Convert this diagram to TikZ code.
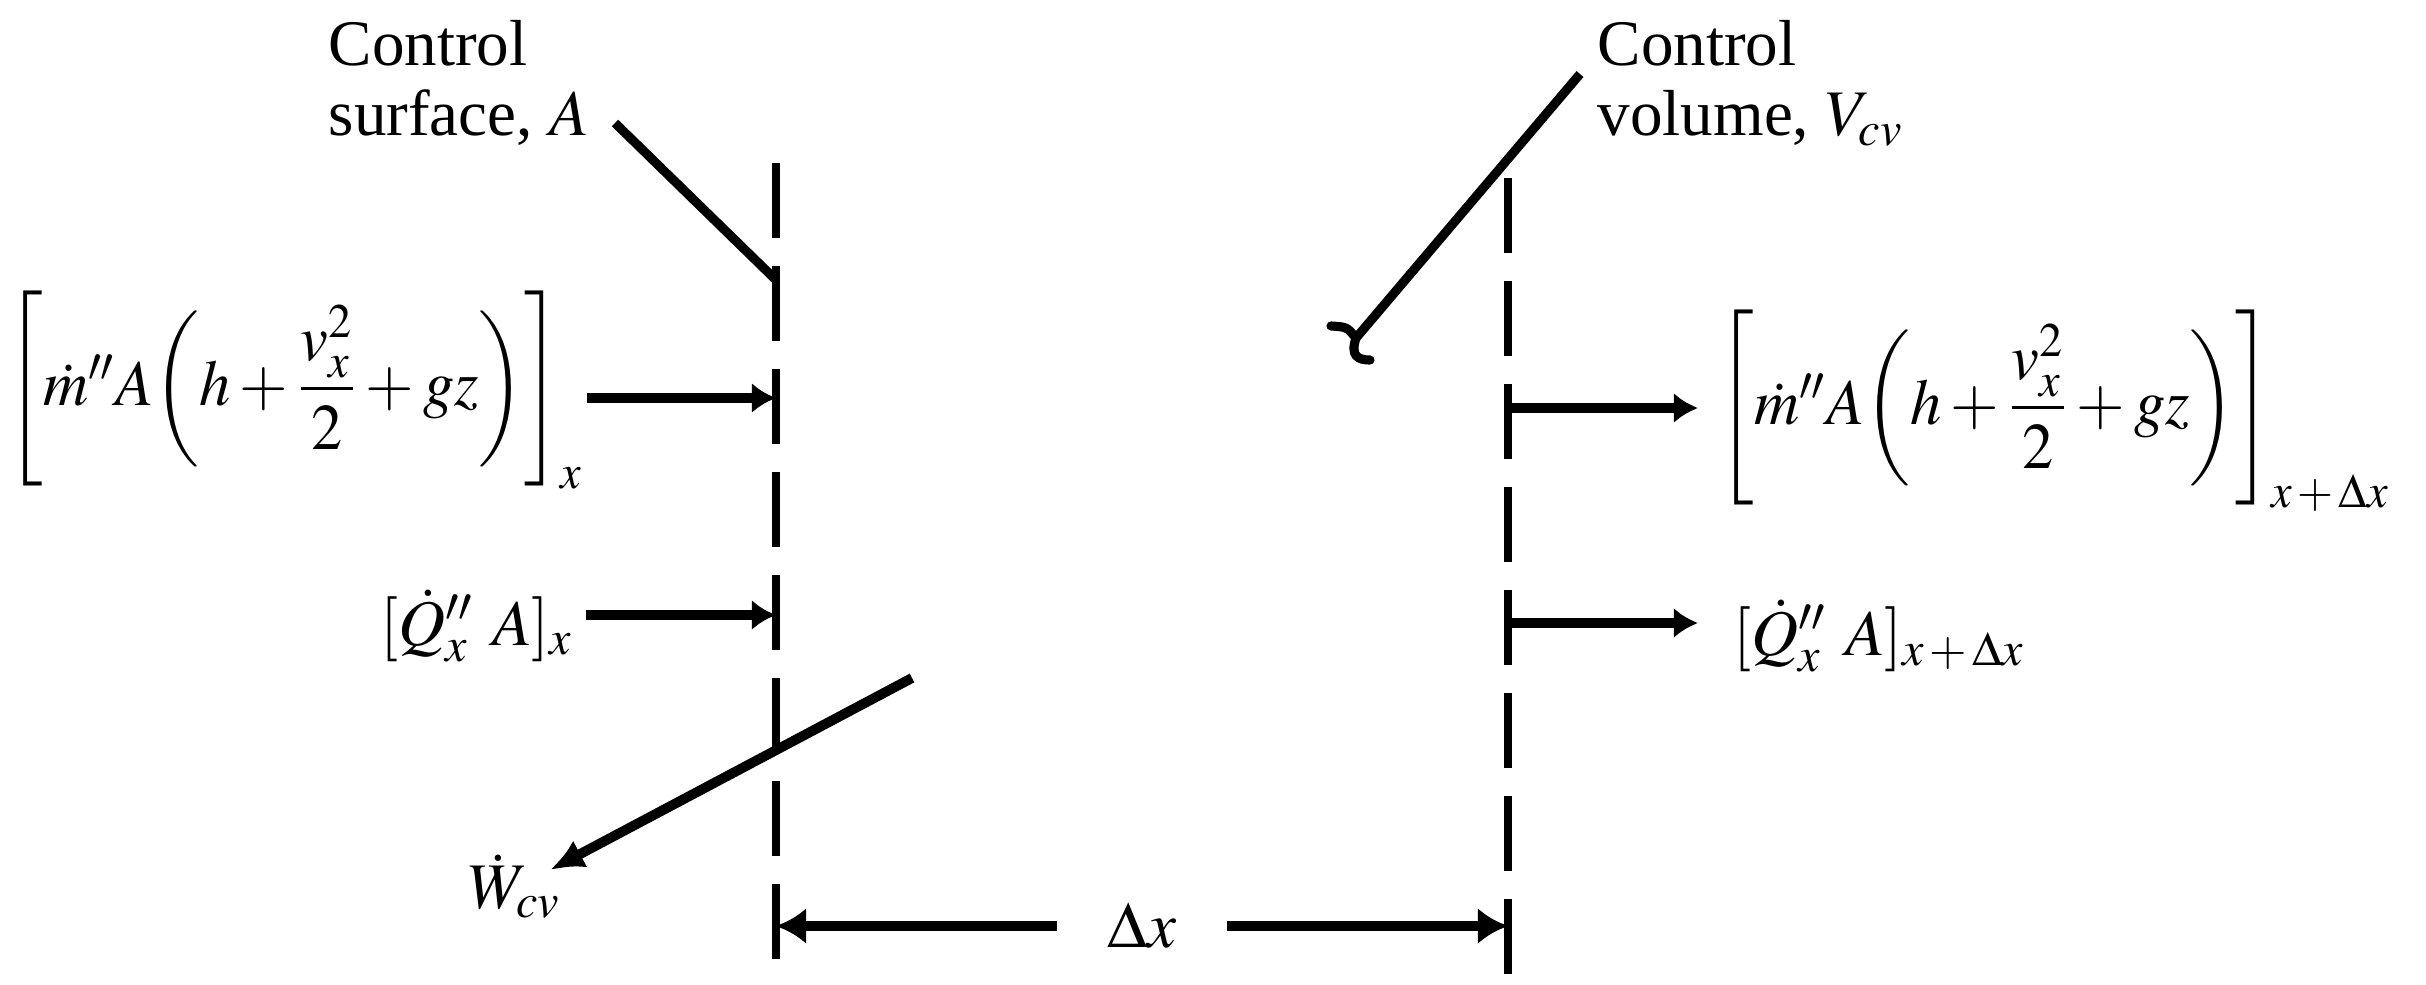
\documentclass[tikz,border=0pt]{standalone}
\usepackage{amsmath}
\usepackage{graphicx}
\usepackage{mathptmx}
\usepackage{fontspec}
\setmainfont{Liberation Serif}
\usetikzlibrary{arrows.meta}

\newcommand{\massterm}[1]{\scalebox{0.96}[1]{$\Biggl[\dot{m}''A\biggl(h+\dfrac{v_x^2}{2}+gz\biggr)\Biggr]_{#1}$}}
\newcommand{\heatterm}[1]{$[\dot{Q}''_x\mkern5mu A]_{#1}$}

\begin{document}
\begin{tikzpicture}[x=0.01cm,y=-0.01cm,
  every node/.style={inner sep=0pt, font=\fontsize{18.5}{19.9}\selectfont},
  cs/.style={line width=2pt, dash pattern=on 0.75cm off 0.28cm},
  flow/.style={line width=2.8pt, -{Latex[length=0.24cm,width=0.3cm]}},
  leader/.style={line width=2.6pt},
  dim/.style={line width=2.8pt, -{Latex[length=0.3cm,width=0.36cm]}},
]
\useasboundingbox (0,0) rectangle (2426,984);

% control surfaces (dashed)
\coordinate (Ltop) at (776,163);
\coordinate (Lbot) at (776,970);
\coordinate (Rtop) at (1508,178);
\coordinate (Rbot) at (1508,984);
\draw[cs] (Ltop) -- (Lbot);
\draw[cs] (Rtop) -- (Rbot);

% labels with leaders
\node[anchor=north west, align=left] (cslab) at (328,20) {Control\\surface, $A$};
\coordinate (csS) at (615,123);
\coordinate (csE) at (776,280);
\draw[leader] (csS) -- (csE);

\node[anchor=north west, align=left] (cvlab) at (1597,20) {Control\\volume, $V_{cv}$};
\coordinate (cvS) at (1580,74);
\coordinate (cvE) at (1356,338);
\draw[leader] (cvS) -- (cvE);
\draw[leader, line cap=round] (1331,326) .. controls (1347,327) .. (cvE)
      .. controls (1350,356) and (1358,360) .. (1370,360);

% mass flow terms
\node[anchor=base west] (min) at (6,405) {\massterm{x}};
\node[anchor=base west] (mout) at (1717,424) {\massterm{x\,+\,\Delta x}};
\coordinate (m1s) at (587,398);
\coordinate (m1e) at (776,398);
\draw[flow] (m1s) -- (m1e);
\coordinate (m2s) at (1508,408);
\coordinate (m2e) at (1698,408);
\draw[flow] (m2s) -- (m2e);

% heat terms
\node[anchor=base west] (qin) at (380,645) {\heatterm{x}};
\node[anchor=base west] (qout) at (1733,655) {\heatterm{x\,+\,\Delta x}};
\coordinate (q1s) at (586,615);
\coordinate (q1e) at (776,615);
\draw[flow] (q1s) -- (q1e);
\coordinate (q2s) at (1508,623);
\coordinate (q2e) at (1698,623);
\draw[flow] (q2s) -- (q2e);

% work
\node[anchor=base west] (w) at (468,908) {$\dot{W}_{cv}$};
\coordinate (ws) at (912,678);
\coordinate (we) at (550,870);
\draw[flow, -{Latex[length=0.34cm,width=0.3cm]}] (ws) -- (we);

% dimension
\node[inner xsep=0.5cm] (dx) at (1142,926) {$\Delta x$};
\coordinate (dxL) at (776,926);
\coordinate (dxR) at (1508,926);
\draw[dim] (dx.west) -- (dx.west -| dxL);
\draw[dim] (dx.east) -- (dx.east -| dxR);
\end{tikzpicture}
\end{document}
